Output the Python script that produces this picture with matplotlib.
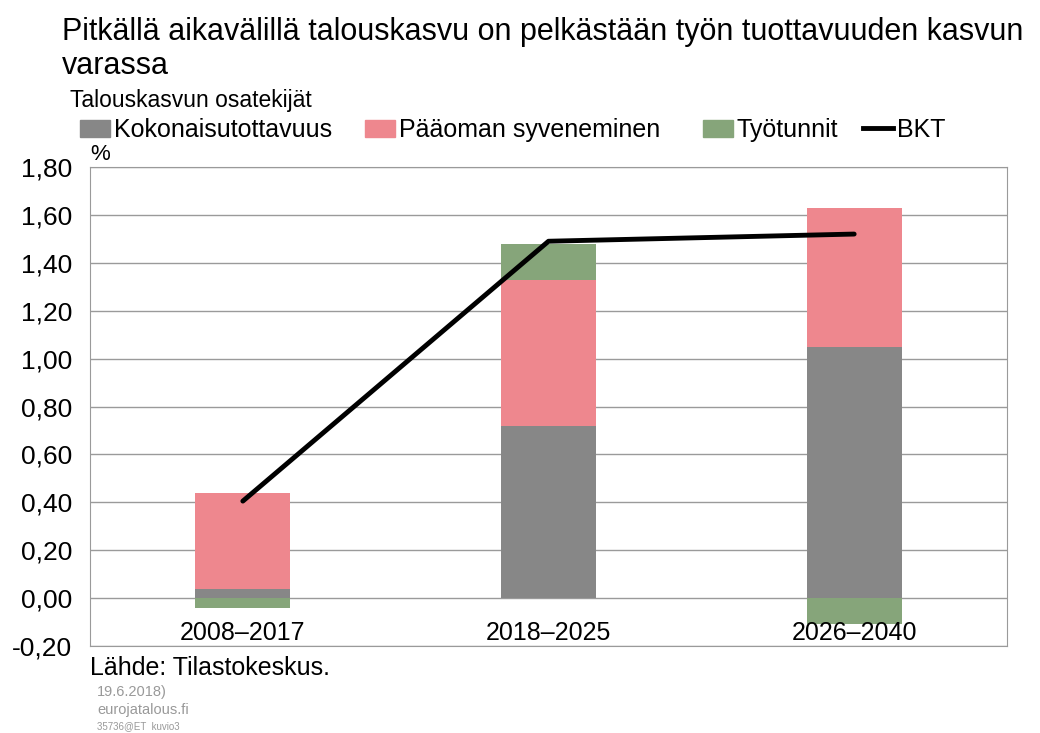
import numpy as np
import matplotlib.pyplot as plt
from matplotlib.patches import Patch
from matplotlib.lines import Line2D

plt.rcParams['font.family'] = ['Liberation Sans', 'DejaVu Sans']

# data
kaudet = ['2008–2017', '2018–2025', '2026–2040']
kokonaistuottavuus = [0.04, 0.72, 1.05]
paaoman_syveneminen = [0.40, 0.61, 0.58]
tyotunnit = [-0.04, 0.15, -0.11]
bkt = [0.405, 1.49, 1.52]
yticks = [-0.2, 0.0, 0.2, 0.4, 0.6, 0.8, 1.0, 1.2, 1.4, 1.6, 1.8]

c_gray = '#878787'
c_pink = '#ee878e'
c_green = '#86a57a'

fig = plt.figure(figsize=(10.4, 7.33), dpi=100)
ax = fig.add_axes([90/1040, 1-646/733, 917/1040, 479/733])

x = np.arange(len(kaudet))
w = 0.31
kok = np.array(kokonaistuottavuus)
paa = np.array(paaoman_syveneminen)
tyo = np.array(tyotunnit)

ax.bar(x, kok, w, color=c_gray, zorder=2)
ax.bar(x, paa, w, bottom=kok, color=c_pink, zorder=2)
# positiivinen työtunnit päälle, negatiivinen nollan alle
tyo_bottom = np.where(tyo >= 0, kok + paa, 0)
ax.bar(x, tyo, w, bottom=tyo_bottom, color=c_green, zorder=2)
ax.plot(x, bkt, color='black', lw=3.5, zorder=3, solid_capstyle='round')

ax.set_xlim(-0.5, 2.5)
ax.set_ylim(-0.2, 1.8)
ax.set_yticks(yticks)
ax.set_yticklabels([f'{v:.2f}'.replace('.', ',') for v in yticks], fontsize=19)
ax.set_xticks([])
ax.tick_params(axis='y', length=0, pad=13)
ax.grid(axis='y', color='#9a9a9a', lw=1, zorder=0)
for s in ax.spines.values():
    s.set_color('#9a9a9a')

for xi, lab in zip(x, kaudet):
    ax.text(xi, -0.145, lab, ha='center', va='center', fontsize=18, zorder=4)

fig.text(100/1040, 1-155/733, '%', fontsize=16, ha='center', va='center')

fig.text(62/1040, 1-32/733, 'Pitkällä aikavälillä talouskasvu on pelkästään työn tuottavuuden kasvun',
         fontsize=22, va='center')
fig.text(62/1040, 1-66/733, 'varassa', fontsize=22, va='center')
fig.text(70/1040, 1-100/733, 'Talouskasvun osatekijät', fontsize=16.5, va='center')

handles = [Patch(color=c_gray), Patch(color=c_pink), Patch(color=c_green),
           Line2D([], [], color='black', lw=3.5)]
labels = ['Kokonaisutottavuus', 'Pääoman syveneminen', 'Työtunnit', 'BKT']
leg_x = [80, 365, 703, 863]
for h, lab, lx in zip(handles, labels, leg_x):
    fig.legend([h], [lab], loc='center left', bbox_to_anchor=(lx/1040, 1-130/733),
               frameon=False, fontsize=18, handlelength=1.2, handleheight=0.7,
               handletextpad=0.15, borderaxespad=0, borderpad=0)

fig.text(90/1040, 1-668/733, 'Lähde: Tilastokeskus.', fontsize=18, va='center')
fig.text(97/1040, 1-692/733, '19.6.2018)', fontsize=10.5, color='#999999', va='center')
fig.text(97/1040, 1-710/733, 'eurojatalous.fi', fontsize=10.5, color='#999999', va='center')
fig.text(97/1040, 1-726/733, '35736@ET  kuvio3', fontsize=7, color='#999999', va='center')

plt.savefig('out.png', dpi=100)
